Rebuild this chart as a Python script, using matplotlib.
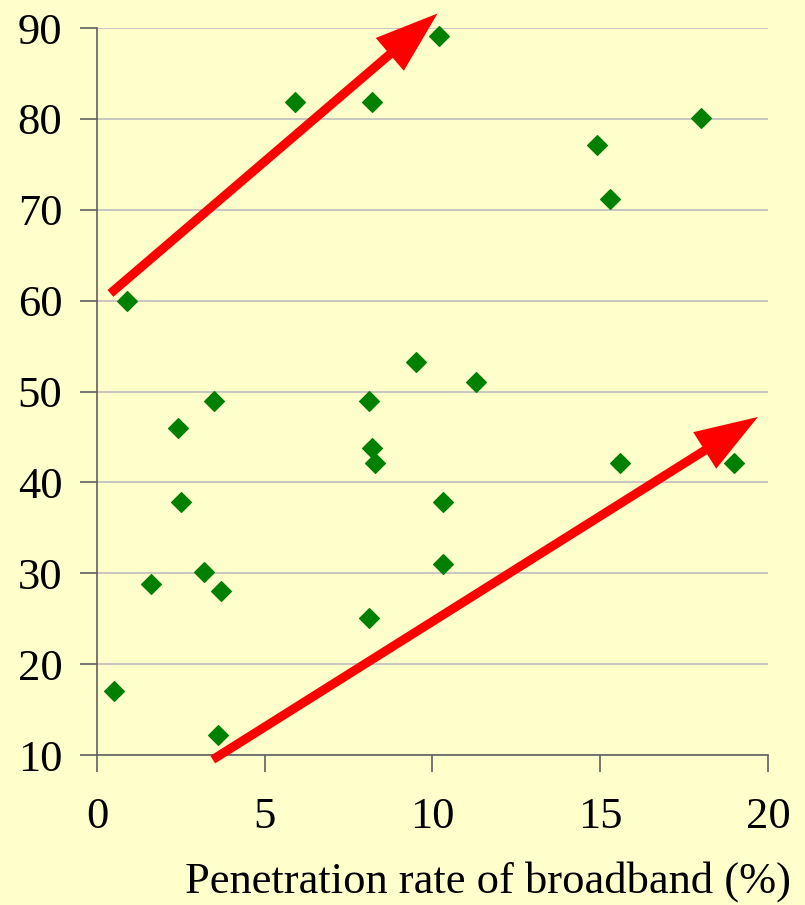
import matplotlib
matplotlib.use("Agg")
import matplotlib.pyplot as plt

# penetration rate of broadband (%) vs. y value
bb_rate = [0.5, 0.9, 1.6, 2.4, 2.5, 3.2, 3.5, 3.7, 3.6, 5.9, 8.1, 8.1, 8.2, 8.3,
           8.2, 9.5, 10.2, 10.3, 10.3, 11.3, 14.9, 15.3, 15.6, 18.0, 19.0]
y_vals = [17, 60, 28.8, 46, 37.8, 30.1, 49, 28, 12.2, 81.9, 49, 25.1, 43.8, 42.1,
          81.9, 53.3, 89.1, 37.8, 31, 51, 77.1, 71.2, 42.1, 80.1, 42.1]

x_ticks = [0, 5, 10, 15, 20]
y_ticks = [10, 20, 30, 40, 50, 60, 70, 80, 90]

# trend arrows (start, end) in data units
arrow_up = [(0.4, 60.8), (10.15, 91.6)]
arrow_low = [(3.45, 9.5), (19.7, 47.2)]

bg = '#FFFFCC'
plt.rcParams['font.family'] = 'Liberation Serif'

fig = plt.figure(figsize=(8.05, 9.05), dpi=100, facecolor=bg)
ax = fig.add_axes([0.1205, 0.1657, 0.8335, 0.8033])
ax.set_facecolor(bg)

ax.scatter(bb_rate, y_vals, marker='D', s=100, color='#008000', zorder=3, clip_on=False)

for (s, e) in [arrow_up, arrow_low]:
    ax.annotate('', xy=e, xytext=s, annotation_clip=False,
                arrowprops=dict(arrowstyle='-|>,head_length=1.6,head_width=0.55',
                                lw=6.5, color='#FF0000', mutation_scale=20,
                                shrinkA=0, shrinkB=0, joinstyle='miter',
                                capstyle='butt'),
                zorder=4)

ax.set_xlim(0, 20)
ax.set_ylim(10, 90)
ax.set_xticks(x_ticks)
ax.set_yticks(y_ticks)
ax.tick_params(axis='both', length=12, width=1.2, color='#606060',
               labelsize=32, direction='out')
ax.tick_params(axis='y', pad=13)
ax.tick_params(axis='x', pad=18)

ax.yaxis.grid(True, color='#BEBEBE', lw=1.2)
ax.set_axisbelow(True)
for side in ['top', 'right']:
    ax.spines[side].set_visible(False)
for side in ['left', 'bottom']:
    ax.spines[side].set_color('#606060')
    ax.spines[side].set_linewidth(1.2)

fig.text(0.982, 0.003, 'Penetration rate of broadband (%)', ha='right', va='bottom',
         fontsize=32)

fig.savefig('out.png', dpi=100, facecolor=bg)
